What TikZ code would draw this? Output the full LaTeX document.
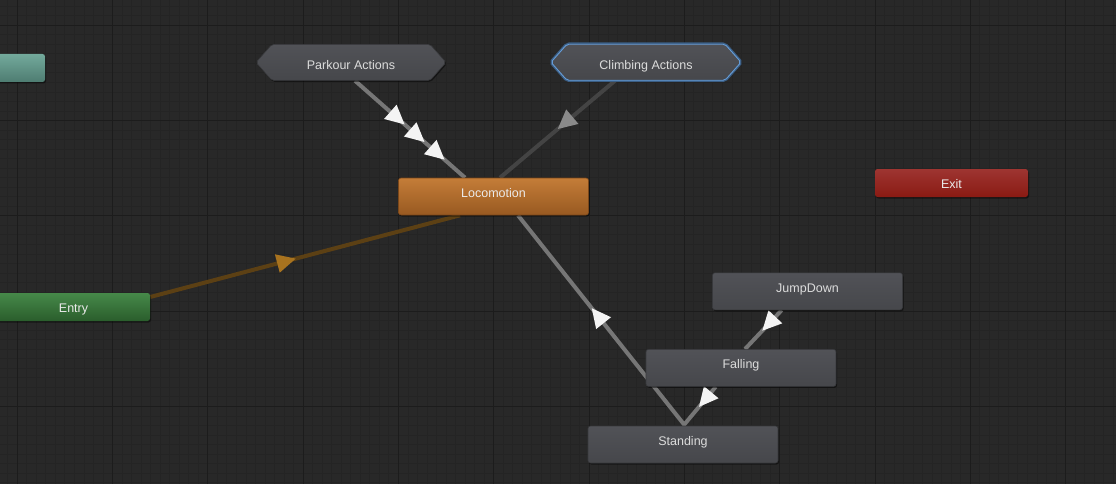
\documentclass[tikz,border=0pt]{standalone}
\usepackage{fontspec}
\setmainfont{Liberation Sans}
\usetikzlibrary{positioning,shapes.symbols,shadows,decorations.markings}

\definecolor{canvasbg}{HTML}{282828}
\definecolor{minorline}{HTML}{242424}
\definecolor{majorline}{HTML}{1C1C1C}
\definecolor{statetop}{HTML}{515257}
\definecolor{statebot}{HTML}{46474B}
\definecolor{stateedge}{HTML}{38393C}
\definecolor{locotop}{HTML}{C47D38}
\definecolor{locobot}{HTML}{985921}
\definecolor{exittop}{HTML}{9E3531}
\definecolor{exitbot}{HTML}{8A1A13}
\definecolor{entrytop}{HTML}{468949}
\definecolor{entrybot}{HTML}{2A5D2C}
\definecolor{anytop}{HTML}{73AA9C}
\definecolor{anybot}{HTML}{4E7C71}
\definecolor{glowblue}{HTML}{4A8AD0}
\definecolor{nodetext}{HTML}{DCDCDC}
\definecolor{translight}{HTML}{767676}
\definecolor{transdark}{HTML}{444444}
\definecolor{transentry}{HTML}{5C4014}
\definecolor{tipwhite}{HTML}{F4F4F4}
\definecolor{tipgray}{HTML}{8A8A8A}
\definecolor{tiporange}{HTML}{A8731F}

\pgfdeclarelayer{grid}
\pgfdeclarelayer{edges}
\pgfsetlayers{grid,edges,main}

\tikzset{
    tri/.style 2 args={postaction={decorate, decoration={markings,
        mark=at position #1 with {\fill[#2] (12.7,0) -- (-6.3,9.5) -- (-6.3,-9.5) -- cycle;}}}},
    shade/.style={drop shadow={shadow xshift=1pt, shadow yshift=-1.5pt, opacity=0.45, fill=black}}
}

\begin{document}
\begin{tikzpicture}[x=1pt, y=-1pt,
    every node/.style={font=\fontsize{12.5}{14}\selectfont, text=nodetext, inner sep=0pt},
    state/.style={rectangle, rounded corners=2.5pt, minimum width=190pt, minimum height=37pt,
        top color=statetop, bottom color=statebot, draw=stateedge, line width=0.6pt,
        text height=10pt, text depth=8pt, shade},
    machine/.style={signal, signal to=west and east, signal pointer angle=97,
        minimum width=190pt, minimum height=36pt, rounded corners=2pt,
        top color=statetop, bottom color=statebot, draw=stateedge, line width=0.6pt,
        text height=14pt, text depth=0pt, shade},
    special/.style={rectangle, rounded corners=2.5pt, minimum width=153pt, minimum height=28pt,
        text=white!92!black, text height=11pt, text depth=0pt, shade},
    trans/.style={line width=4pt, translight}]

    \useasboundingbox (0,0) rectangle (1116,484);

    % grid
    \begin{pgfonlayer}{grid}
        \fill[canvasbg] (0,0) rectangle (1116,484);
        \foreach \i in {-2,...,116}
            \draw[minorline, line width=1pt] ({17.3+9.53*\i},0) -- ({17.3+9.53*\i},484);
        \foreach \j in {-3,...,49}
            \draw[minorline, line width=1pt] (0,{25.3+9.53*\j}) -- (1116,{25.3+9.53*\j});
        \foreach \i in {0,...,11}
            \draw[majorline, line width=1pt] ({17.3+95.3*\i},0) -- ({17.3+95.3*\i},484);
        \foreach \j in {0,...,4}
            \draw[majorline, line width=1pt] (0,{25.3+95.3*\j}) -- (1116,{25.3+95.3*\j});
    \end{pgfonlayer}

    \node[special, top color=anytop, bottom color=anybot] (any) at (-31.5,68) {};
    \node[special, top color=entrytop, bottom color=entrybot] (entry) at (73.5,307) {Entry};
    \node[special, top color=exittop, bottom color=exitbot] (exit) at (951.5,183) {Exit};

    \node[state, top color=locotop, bottom color=locobot, draw=locobot!80!black, text=white!92!black] (loco) at (493.5,196.5) {Locomotion};
    \node[machine, above=97pt of loco, xshift=-142.5pt] (parkour) {Parkour Actions};
    \node[machine, above=97pt of loco, xshift=152.5pt, draw=glowblue!85!white, line width=0.9pt,
        preaction={draw=glowblue!55!canvasbg, line width=3.5pt}] (climbing) {Climbing Actions};

    \node[state] (standing) at (683,444.5) {Standing};
    \node[state, above=39pt of standing, xshift=58pt] (falling) {Falling};
    \node[state, above=39pt of falling, xshift=66.5pt] (jump) {JumpDown};

    \begin{pgfonlayer}{edges}
        \draw[trans, tri={0.364}{tipwhite}, tri={0.545}{tipwhite}, tri={0.727}{tipwhite}]
            ([xshift=4pt]parkour.south) -- ([xshift=-28.5pt]loco.north);
        \draw[trans, transdark, tri={0.413}{tipgray}]
            ([xshift=-31pt]climbing.south) -- ([xshift=6.5pt]loco.north);
        \draw[trans, transentry, tri={0.43}{tiporange}]
            ([yshift=10pt]entry.east) -- ([xshift=-33.5pt]loco.south);
        \draw[trans, tri={0.511}{tipwhite}]
            ([xshift=2pt]standing.north) -- ([xshift=24.5pt]loco.south);
        \draw[trans, tri={0.29}{tipwhite}]
            ([xshift=-25.8pt]jump.south) -- ([xshift=4pt]falling.north);
        \draw[trans, tri={0.265}{tipwhite}]
            ([xshift=-25.2pt]falling.south) -- ([xshift=0.3pt]standing.north);
    \end{pgfonlayer}
\end{tikzpicture}
\end{document}
